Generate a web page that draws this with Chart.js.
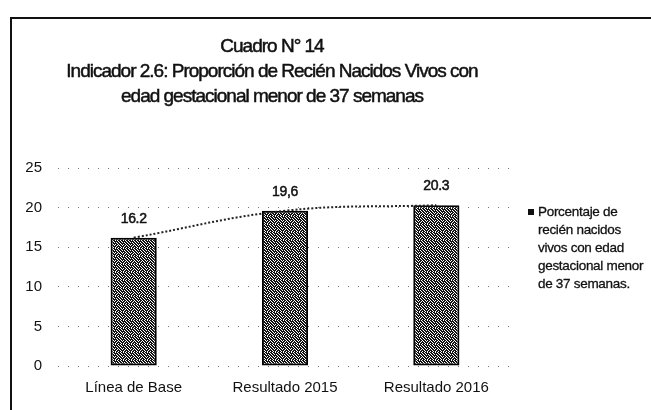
<!DOCTYPE html>
<html>
<head>
<meta charset="utf-8">
<script src="https://cdn.jsdelivr.net/npm/chart.js@4.4.1/dist/chart.umd.min.js"></script>
<style>
    html, body { margin: 0; padding: 0; background: #fff; }
    #wrap { position: relative; width: 651px; height: 410px; overflow: hidden; }
    #frame { position: absolute; left: 10px; top: 17px; width: 700px; height: 500px;
             border-top: 2px solid #111; border-left: 2px solid #111; }
    canvas { position: absolute; left: 0; top: 0; }
</style>
</head>
<body>
<div id="wrap">
    <div id="frame"></div>
    <canvas id="chart" width="651" height="410"></canvas>
</div>
<script>
const categories = ['Línea de Base', 'Resultado 2015', 'Resultado 2016'];
const values = [16.2, 19.6, 20.3];
const valueLabels = ['16.2', '19,6', '20.3'];
const yTicks = [0, 5, 10, 15, 20, 25];
const titleLines = ['Cuadro N° 14',
    'Indicador 2.6: Proporción de Recién Nacidos Vivos con',
    'edad gestacional menor de 37 semanas'];
const legendLines = ['Porcentaje de', 'recién nacidos', 'vivos con edad',
    'gestacional menor', 'de 37 semanas.'];

// stippled fill like the scanned bars
function makePattern() {
    const rows = [
        '10010100',
        '01000010',
        '00101001',
        '10000100',
        '01010010',
        '00100101',
        '10001000',
        '01010010'
    ];
    const c = document.createElement('canvas');
    c.width = 8; c.height = 8;
    const p = c.getContext('2d');
    p.fillStyle = '#111';
    p.fillRect(0, 0, 8, 8);
    p.fillStyle = '#fff';
    rows.forEach((r, y) => {
        for (let x = 0; x < r.length; x++) {
            if (r[x] === '1') p.fillRect(x, y, 1, 1);
        }
    });
    return p.createPattern(c, 'repeat');
}

function heavyText(ctx, t, x, y) {
    ctx.fillText(t, x, y);
    ctx.strokeText(t, x, y);
}

const textPlugin = {
    id: 'textPlugin',
    afterDraw(chart) {
        const ctx = chart.ctx;
        ctx.save();
        ctx.fillStyle = '#111';
        ctx.strokeStyle = '#111';
        ctx.lineWidth = 0.5;
        ctx.textAlign = 'center';
        ctx.textBaseline = 'middle';

        // title
        ctx.font = '19px "Liberation Sans", Arial, sans-serif';
        ctx.letterSpacing = '-1px';
        titleLines.forEach((t, i) => heavyText(ctx, t, 272, 47 + i * 25));

        // values over bars
        ctx.letterSpacing = '-0.3px';
        ctx.font = '14px "Liberation Sans", Arial, sans-serif';
        const meta = chart.getDatasetMeta(0);
        meta.data.forEach((bar, i) => {
            heavyText(ctx, valueLabels[i], bar.x, bar.y - 19);
        });

        // legend
        ctx.textAlign = 'left';
        ctx.lineWidth = 0.3;
        ctx.font = '13.5px "Liberation Sans", Arial, sans-serif';
        ctx.fillRect(528, 209, 6, 6);
        legendLines.forEach((t, i) => heavyText(ctx, t, 538, 212 + i * 18));
        ctx.restore();
    }
};

const ctx = document.getElementById('chart').getContext('2d');
const barFill = makePattern();

new Chart(ctx, {
    type: 'bar',
    data: {
        labels: categories,
        datasets: [{
            type: 'bar',
            data: values,
            backgroundColor: barFill,
            borderColor: '#000',
            borderWidth: 2,
            borderSkipped: false,
            barPercentage: 0.305,
            categoryPercentage: 1,
            order: 2
        }, {
            type: 'line',
            data: values,
            borderColor: '#222',
            borderWidth: 2,
            borderDash: [2, 2],
            pointRadius: 0,
            tension: 0.4,
            fill: false,
            order: 1
        }]
    },
    options: {
        responsive: false,
        animation: false,
        layout: { padding: { top: 168, right: 139, bottom: 0, left: 0 } },
        plugins: {
            legend: { display: false },
            tooltip: { enabled: false },
            title: { display: false }
        },
        scales: {
            x: {
                afterFit: (scale) => { scale.height = 44; },
                grid: { display: false, drawTicks: false },
                border: { display: false },
                ticks: {
                    color: '#111',
                    padding: 13,
                    font: { family: '"Liberation Sans", Arial, sans-serif', size: 15 }
                }
            },
            y: {
                min: 0,
                max: 25,
                afterFit: (scale) => { scale.width = 58; },
                afterBuildTicks: (scale) => { scale.ticks = yTicks.map(v => ({ value: v })); },
                grid: {
                    color: '#777',
                    lineWidth: 1,
                    drawTicks: false
                },
                border: { display: false, dash: [1, 9] },
                ticks: {
                    color: '#111',
                    padding: 16,
                    font: { family: '"Liberation Sans", Arial, sans-serif', size: 15 }
                }
            }
        }
    },
    plugins: [textPlugin]
});
</script>
</body>
</html>
